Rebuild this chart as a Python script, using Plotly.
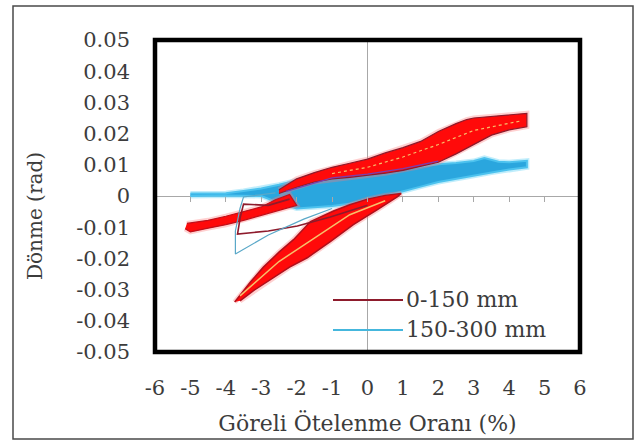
import plotly.graph_objects as go

# ---------------- data ----------------
x_ticks = [-6, -5, -4, -3, -2, -1, 0, 1, 2, 3, 4, 5, 6]
x_tick_labels = ["-6", "-5", "-4", "-3", "-2", "-1", "0", "1", "2", "3", "4", "5", "6"]
y_ticks = [0.05, 0.04, 0.03, 0.02, 0.01, 0, -0.01, -0.02, -0.03, -0.04, -0.05]
y_tick_labels = ["0.05", "0.04", "0.03", "0.02", "0.01", "0",
                 "-0.01", "-0.02", "-0.03", "-0.04", "-0.05"]
series_names = ["0-150 mm", "150-300 mm"]
x_title = "Göreli Ötelenme Oranı (%)"
y_title = "Dönme (rad)"

# 0-150 mm : upper hysteresis band (cycles reaching +4.5 %)
red_band_x = [-2.5, -2.0, -1.5, -1.0, -0.5, 0.0, 0.5, 1.0, 1.5, 2.0, 2.5, 2.8, 3.0, 3.5, 4.0, 4.5,
              4.5, 4.0, 3.5, 3.0, 2.5, 2.0, 1.5, 1.0, 0.5, 0.0, -0.5, -1.0, -1.5, -2.0, -2.5]
red_band_y = [0.0020, 0.0055, 0.0075, 0.0092, 0.0105, 0.0118, 0.0138, 0.0155, 0.0175, 0.0207,
              0.0232, 0.0245, 0.0250, 0.0255, 0.0260, 0.0265,
              0.0222, 0.0212, 0.0195, 0.0165, 0.0135, 0.0108, 0.0094, 0.0082, 0.0073,
              0.0066, 0.0060, 0.0055, 0.0045, 0.0028, 0.0008]

# 0-150 mm : lower-left wedge (cycles reaching -5 %)
red_wedge_x = [-5.1, -4.5, -4.0, -3.5, -3.0, -2.6, -2.2,
               -2.0, -2.5, -3.0, -3.5, -4.0, -4.5, -5.0, -5.15]
red_wedge_y = [-0.0088, -0.0078, -0.0065, -0.0050, -0.0035, -0.0012, 0.0005,
               -0.0030, -0.0045, -0.0062, -0.0078, -0.0092, -0.0103, -0.0115, -0.0105]

# 0-150 mm : large lower lobe (cycles reaching -3.7 %, -0.034 rad)
red_lobe_x = [-3.75, -3.3, -2.94, -2.5, -2.09, -1.61, -0.96, -0.5, 0.0, 0.5, 0.95,
              0.85, 0.28, -0.4, -1.05, -1.7, -2.2, -2.65, -3.2, -3.6]
red_lobe_y = [-0.0340, -0.0275, -0.0228, -0.0180, -0.0140, -0.0082, -0.0048, -0.0028,
              -0.0010, 0.0002, 0.0008,
              -0.0002, -0.0044, -0.0092, -0.0146, -0.0198, -0.0228, -0.0262, -0.0302, -0.0336]

# 0-150 mm : thin first-cycle loop
red_loop_x = [0.0, -1.05, -1.98, -2.8, -3.67, -3.59, -3.5, -2.8, -2.2]
red_loop_y = [-0.0030, -0.0067, -0.0096, -0.0112, -0.0122, -0.0067, -0.0026, -0.0030, -0.0010]

# 150-300 mm : main band
blue_band_x = [-5.0, -4.0, -3.5, -3.0, -2.5, -2.0, -1.5, -1.0, -0.5, 0.0, 0.5, 1.0, 1.5,
               2.0, 2.5, 3.0, 3.3, 3.7, 4.0, 4.5,
               4.5, 4.0, 3.5, 3.0, 2.5, 2.0, 1.5, 1.0, 0.5, 0.0, -0.5, -1.0, -1.5, -2.0,
               -2.5, -3.0, -4.0, -5.0]
blue_band_y = [0.0008, 0.0009, 0.0016, 0.0024, 0.0036, 0.0050, 0.0058, 0.0062, 0.0066,
               0.0070, 0.0080, 0.0088, 0.0096, 0.0102, 0.0106, 0.0112, 0.0122, 0.0110,
               0.0108, 0.0113,
               0.0092, 0.0085, 0.0075, 0.0065, 0.0055, 0.0045, 0.0030, 0.0015, 0.0000,
               -0.0010, -0.0025, -0.0032, -0.0036, -0.0040, -0.0022, 0.0000, 0.0002, 0.0]

# 150-300 mm : thin first-cycle loop
blue_loop_x = [-1.0, -1.8, -2.8, -3.73, -3.73, -3.6, -3.5, -2.6]
blue_loop_y = [-0.0040, -0.0074, -0.0125, -0.0186, -0.0112, -0.0040, -0.0003, 0.0010]

# individual cycle traces drawn over the bands
band_mid_x = [-1.0, 0.0, 1.0, 2.0, 3.0, 4.3]
band_mid_y = [0.0072, 0.0092, 0.0125, 0.0165, 0.0210, 0.0240]
lobe_mid_x = [-3.6, -2.5, -1.5, -0.5, 0.5]
lobe_mid_y = [-0.0320, -0.0210, -0.0135, -0.0060, -0.0015]
purple_x = [-2.3, -1.0, 0.0, 1.0, 2.0]
purple_y = [0.0015, 0.0058, 0.0070, 0.0088, 0.0112]

# ---------------- styling ----------------
TXT = "#3c3c3c"
FONT = "DejaVu Serif"
RED = "#ff0a0a"
DARKRED = "#8e1b2c"
BLUE = "#2aa6de"

fig = go.Figure()


def poly(x, y, fill, edge, w, halo):
    fig.add_trace(go.Scatter(x=x, y=y, mode="lines", line=dict(color=halo, width=5),
                             showlegend=False, hoverinfo="skip"))
    fig.add_trace(go.Scatter(x=x, y=y, mode="lines", fill="toself", fillcolor=fill,
                             line=dict(color=edge, width=w), showlegend=False,
                             hoverinfo="skip"))


def line(x, y, color, w, dash="solid"):
    fig.add_trace(go.Scatter(x=x, y=y, mode="lines", line=dict(color=color, width=w, dash=dash),
                             showlegend=False, hoverinfo="skip"))


poly(blue_band_x, blue_band_y, BLUE, "#4cc2ee", 2, "rgba(150,225,248,0.6)")
poly(red_band_x, red_band_y, RED, DARKRED, 1.2, "rgba(255,120,120,0.35)")
line(band_mid_x, band_mid_y, "#f7c06a", 1.2, "dot")
line(purple_x, purple_y, "#7a3fb0", 1.2)
poly(red_wedge_x, red_wedge_y, RED, "#c0101a", 1.2, "rgba(255,120,120,0.35)")
poly(red_lobe_x, red_lobe_y, RED, "#b0101c", 1.5, "rgba(255,120,120,0.35)")
line(lobe_mid_x, lobe_mid_y, "#f7c06a", 1.5)
line(red_loop_x, red_loop_y, DARKRED, 1.6)
line(blue_loop_x, blue_loop_y, "#5aa8c8", 1.2)

# invisible trace that activates the tick axis placed on the zero line
fig.add_trace(go.Scatter(x=[None], y=[None], xaxis="x2", showlegend=False, hoverinfo="skip"))

# ---------------- layout ----------------
L, R, T, B = 155, 56, 40, 90
W, H = 636, 442
pw, ph = W - L - R, H - T - B


def px(xp):
    return (xp - L) / pw


def py(yp):
    return (H - B - yp) / ph


shapes = [
    # outer frame of the picture
    dict(type="rect", xref="paper", yref="paper", x0=px(13), x1=px(633), y0=py(439), y1=py(6),
         line=dict(color="#4a4a4a", width=1.5), layer="below"),
    # thick plot-area border
    dict(type="rect", xref="paper", yref="paper", x0=0, x1=1, y0=0, y1=1,
         line=dict(color="black", width=4.5)),
    # manual legend lines
    dict(type="line", xref="paper", yref="paper", x0=px(333), x1=px(403), y0=py(300), y1=py(300),
         line=dict(color=DARKRED, width=1.8)),
    dict(type="line", xref="paper", yref="paper", x0=px(333), x1=px(403), y0=py(330), y1=py(330),
         line=dict(color="#45b7dd", width=1.8)),
]
annotations = [
    dict(xref="paper", yref="paper", x=px(404), y=py(299), text=series_names[0], showarrow=False,
         xanchor="left", yanchor="middle", font=dict(family=FONT, size=22, color=TXT)),
    dict(xref="paper", yref="paper", x=px(404), y=py(329), text=series_names[1], showarrow=False,
         xanchor="left", yanchor="middle", font=dict(family=FONT, size=22, color=TXT)),
    # y-axis title (sits a little below the plot-area centre in the reference)
    dict(xref="paper", yref="paper", x=px(35), y=py(216), text=y_title, showarrow=False,
         textangle=-90, xanchor="center", yanchor="middle",
         font=dict(family=FONT, size=20, color=TXT)),
]

fig.update_layout(
    width=W, height=H,
    margin=dict(l=L, r=R, t=T, b=B),
    paper_bgcolor="white", plot_bgcolor="white",
    showlegend=False,
    font=dict(family=FONT, color=TXT),
    xaxis=dict(range=[-6, 6], tickvals=x_ticks, ticktext=x_tick_labels,
               showgrid=False, showline=False, ticks="", zeroline=True,
               zerolinecolor="#a8a8a8", zerolinewidth=1,
               tickfont=dict(family=FONT, size=21, color=TXT), ticklabelstandoff=21,
               title=dict(text=x_title, font=dict(family=FONT, size=22, color=TXT),
                          standoff=16)),
    xaxis2=dict(range=[-6, 6], overlaying="x", anchor="free", position=0.5, side="bottom",
                tickvals=x_ticks, showticklabels=False, ticks="outside", ticklen=5,
                tickcolor="#a8a8a8", tickwidth=1, showline=False, showgrid=False, zeroline=False),
    yaxis=dict(range=[-0.05, 0.05], tickvals=y_ticks, ticktext=y_tick_labels,
               showgrid=False, showline=False, ticks="", zeroline=True,
               zerolinecolor="#a8a8a8", zerolinewidth=1,
               tickfont=dict(family=FONT, size=21, color=TXT), ticklabelstandoff=24),
    shapes=shapes, annotations=annotations,
)

# remove the browser's default 8px page margin so the figure sits at the window origin
fig.write_html("out.html", config={"displayModeBar": False},
               post_script="document.body.style.margin='0px';")
